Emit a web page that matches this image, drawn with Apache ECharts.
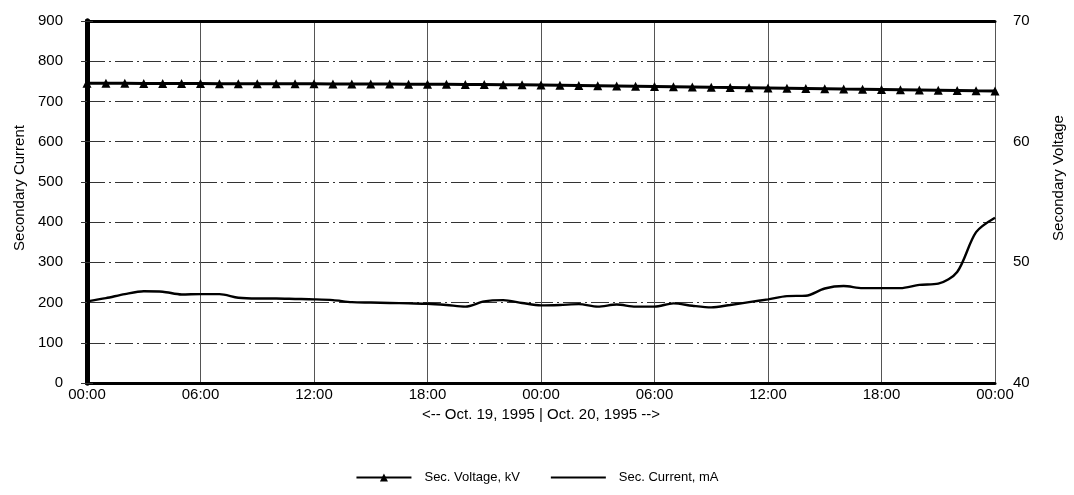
<!DOCTYPE html>
<html><head><meta charset="utf-8">
<script src="https://cdn.jsdelivr.net/npm/echarts@6/dist/echarts.min.js"></script>
<style>html,body{margin:0;padding:0;background:#fff}#c{width:1074px;height:495px}</style>
</head><body><div id="c"></div>
<script>
// hours from 00:00 Oct 19, 1995
const hours = [0,1,2,3,4,5,6,7,8,9,10,11,12,13,14,15,16,17,18,19,20,21,22,23,24,
  25,26,27,28,29,30,31,32,33,34,35,36,37,38,39,40,41,42,43,44,45,46,47,48];
const xTickLabels = ['00:00','06:00','12:00','18:00','00:00','06:00','12:00','18:00','00:00'];
const currentMA = [203,211,221,228,227,220,221,221,212,210,210,209,208,206,201,200,199,198,197,194,190,203,206,199,193,
  194,196,190,195,190,190,198,192,188,194,201,208,216,217,235,241,236,236,236,244,247,276,375,411];
const voltageKV = [64.85,64.84,64.84,64.83,64.83,64.82,64.82,64.81,64.81,64.80,64.80,64.79,64.79,64.78,64.78,64.77,64.77,
  64.76,64.75,64.75,64.74,64.73,64.72,64.71,64.70,64.68,64.66,64.64,64.62,64.60,64.58,64.56,64.53,
  64.50,64.48,64.46,64.44,64.42,64.40,64.38,64.36,64.35,64.33,64.31,64.29,64.27,64.25,64.22,64.20];
const leftTicks = {min:0, max:900, step:100};
const rightTicks = {min:40, max:70, step:10};

const FONT = '"Liberation Sans", Arial, sans-serif';
const chart = echarts.init(document.getElementById('c'), null, {renderer:'canvas'});
chart.setOption({
  animation:false,
  backgroundColor:'#fff',
  textStyle:{fontFamily:FONT, color:'#000'},
  grid:{left:87, right:78, top:21, bottom:112, containLabel:false},
  legend:{
    bottom:6, left:'center', itemWidth:55, itemHeight:10, itemGap:30,
    textStyle:{fontFamily:FONT, fontSize:13, color:'#000', padding:[0,0,0,8]},
    data:[{name:'Sec. Voltage, kV'}, {name:'Sec. Current, mA', itemStyle:{opacity:0}}]
  },
  xAxis:[{
    type:'value', min:0, max:48, interval:6, position:'bottom',
    axisLine:{show:true, onZero:false, lineStyle:{color:'#000', width:3}},
    axisTick:{show:false},
    axisLabel:{fontFamily:FONT, fontSize:15, color:'#000', margin:4,
      showMinLabel:true, showMaxLabel:true,
      formatter:function(v){ return xTickLabels[Math.round(v/6)]; }},
    splitLine:{show:true, lineStyle:{color:'#555', width:1}},
    name:'<-- Oct. 19, 1995 | Oct. 20, 1995 -->',
    nameLocation:'middle', nameGap:19,
    nameTextStyle:{fontFamily:FONT, fontSize:15, color:'#000'}
  },{
    type:'value', min:0, max:48, interval:6, position:'top',
    axisLine:{show:true, onZero:false, lineStyle:{color:'#000', width:3}},
    axisTick:{show:false}, axisLabel:{show:false}, splitLine:{show:false}
  }],
  yAxis:[{
    type:'value', min:leftTicks.min, max:leftTicks.max, interval:leftTicks.step, position:'left',
    axisLine:{show:true, lineStyle:{color:'#000', width:5}},
    axisTick:{show:true, length:6, lineStyle:{color:'#333', width:1}},
    axisLabel:{fontFamily:FONT, fontSize:15, color:'#000', margin:24},
    splitLine:{show:true, lineStyle:{color:'#333', width:1, type:[18,4,2,4]}},
    name:'Secondary Current', nameLocation:'middle', nameGap:60,
    nameTextStyle:{fontFamily:FONT, fontSize:15, color:'#000', padding:[0,0,0,28]}
  },{
    type:'value', min:rightTicks.min, max:rightTicks.max, interval:rightTicks.step, position:'right',
    axisLine:{show:true, lineStyle:{color:'#000', width:5}},
    axisTick:{show:true, length:6, lineStyle:{color:'#333', width:1}},
    axisLabel:{fontFamily:FONT, fontSize:15, color:'#000', margin:18},
    splitLine:{show:false},
    name:'Secondary Voltage', nameLocation:'middle', nameGap:56,
    nameTextStyle:{fontFamily:FONT, fontSize:15, color:'#000', padding:[0,0,0,48]}
  }],
  series:[{
    name:'Sec. Voltage, kV', type:'line', xAxisIndex:0, yAxisIndex:1,
    data:hours.map((h,i)=>[h, voltageKV[i]]),
    symbol:'triangle', symbolSize:9, showSymbol:true,
    lineStyle:{color:'#000', width:3}, itemStyle:{color:'#000'}
  },{
    name:'Sec. Current, mA', type:'line', xAxisIndex:0, yAxisIndex:0,
    data:hours.map((h,i)=>[h, currentMA[i]]),
    symbol:'none', smooth:0.3,
    lineStyle:{color:'#000', width:2.4}, itemStyle:{color:'#000'}
  }]
});
</script></body></html>
